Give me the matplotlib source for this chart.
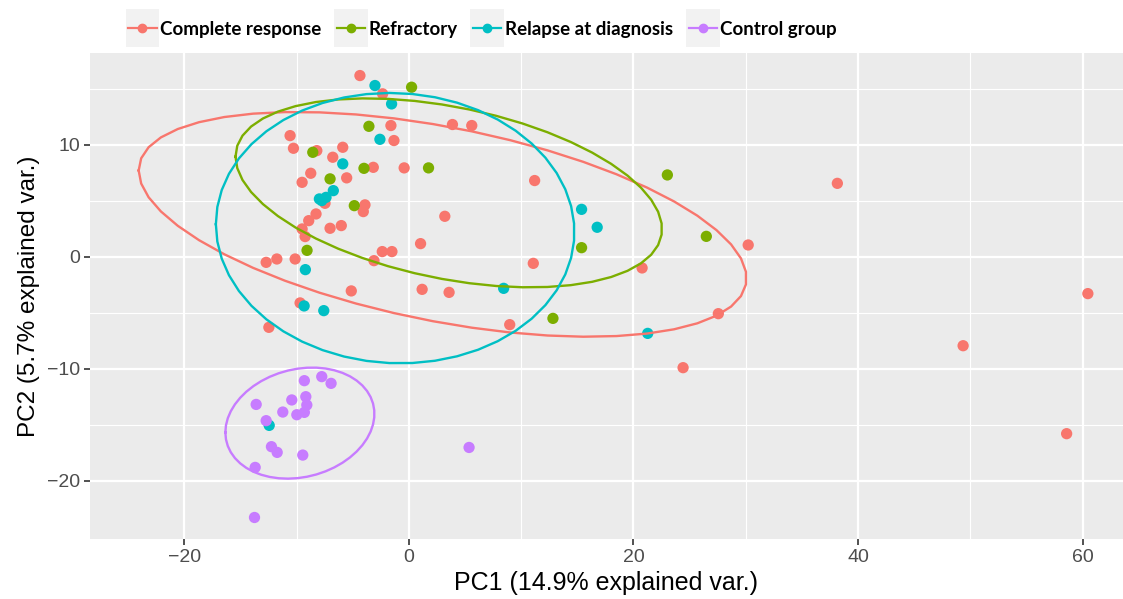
import numpy as np
import matplotlib
matplotlib.use("Agg")
import matplotlib.pyplot as plt
from matplotlib.lines import Line2D
from matplotlib.patches import Rectangle
from matplotlib.legend_handler import HandlerLine2D

groups = ["Complete response", "Refractory", "Relapse at diagnosis", "Control group"]
colors = ["#F8766D", "#7CAE00", "#00BFC4", "#C77CFF"]

cr_x = [-4.36, -2.34, -1.60, 3.88, 5.60, -10.58, -1.33, -10.28, -8.20, -5.89,
        -6.78, -3.17, -0.42, -8.74, -9.51, -5.54, -7.47, -3.91, -4.06, 3.20,
        -8.27, -8.92, -9.51, -9.24, -7.02, -6.02, 1.04, -2.37, -1.51, -3.11,
        -12.71, -11.76, -10.13, -5.13, 1.18, 3.58, -9.69, -12.47, 11.20, 11.08,
        8.98, 20.77, 27.56, 38.16, 30.22, 24.42, 60.47, 49.36, 58.58]
cr_y = [16.16, 14.53, 11.70, 11.79, 11.70, 10.80, 10.36, 9.67, 9.46, 9.76,
        8.87, 7.97, 7.92, 7.44, 6.63, 7.03, 4.76, 4.62, 4.02, 3.60,
        3.81, 3.21, 2.47, 1.79, 2.53, 2.77, 1.16, 0.45, 0.45, -0.36,
        -0.51, -0.21, -0.21, -3.06, -2.92, -3.19, -4.13, -6.31, 6.79, -0.60,
        -6.07, -1.01, -5.09, 6.54, 1.04, -9.91, -3.30, -7.95, -15.80]

rf_x = [0.24, -3.56, -8.56, -4.00, 1.75, -7.02, -4.86, -9.07, 15.38, 12.83, 23.02, 26.49]
rf_y = [15.12, 11.63, 9.31, 7.88, 7.92, 6.94, 4.55, 0.56, 0.80, -5.51, 7.29, 1.81]

rd_x = [-3.02, -1.54, -2.58, -5.89, -6.73, -7.97, -7.38, -7.76, -9.22, -9.33,
        -7.58, 15.38, 16.77, 8.44, 21.27, -12.44]
rd_y = [15.27, 13.63, 10.47, 8.28, 5.89, 5.15, 5.29, 5.00, -1.16, -4.40,
        -4.82, 4.22, 2.62, -2.83, -6.85, -15.06]

cg_x = [-9.31, -7.76, -6.93, -13.60, -10.43, -9.18, -9.09, -11.23, -9.98, -9.31,
        -12.71, -12.24, -11.73, -9.45, -13.69, -13.75, 5.36]
cg_y = [-11.07, -10.71, -11.31, -13.19, -12.79, -12.50, -13.24, -13.87, -14.11, -13.90,
        -14.64, -16.96, -17.47, -17.71, -18.81, -23.28, -17.03]

series_x = [cr_x, rf_x, rd_x, cg_x]
series_y = [cr_y, rf_y, rd_y, cg_y]

x_ticks = [-20, 0, 20, 40, 60]
y_ticks = [-20, -10, 0, 10]
x_label = "PC1 (14.9% explained var.)"
y_label = "PC2 (5.7% explained var.)"
ellipse_prob = 0.68

plt.rcParams['font.family'] = ['Liberation Sans', 'DejaVu Sans']

fig = plt.figure(figsize=(11.23, 5.99), dpi=100)
ax = fig.add_axes([90 / 1123, 60 / 599, 1 - 90 / 1123, (539 - 52.7) / 599])
ax.set_facecolor("#EBEBEB")

ax.set_xlim(-28.4, 63.6)
ax.set_ylim(-25.2, 18.2)
ax.set_xticks(x_ticks)
ax.set_yticks(y_ticks)
ax.set_xticks([-10, 10, 30, 50], minor=True)
ax.set_yticks([-15, -5, 5, 15], minor=True)
ax.grid(which="major", color="white", linewidth=1.6)
ax.grid(which="minor", color="white", linewidth=0.8)
ax.set_axisbelow(True)
for s in ax.spines.values():
    s.set_visible(False)
ax.tick_params(which="major", length=4, width=1.2, color="#333333",
               labelsize=14, labelcolor="#4D4D4D", pad=3)
ax.tick_params(which="minor", length=0)
ax.set_xticklabels([("\u2212" + str(-t)) if t < 0 else str(t) for t in x_ticks])
ax.set_yticklabels([("\u2212" + str(-t)) if t < 0 else str(t) for t in y_ticks])
ax.set_xlabel(x_label, fontsize=18, color="black", labelpad=4)
ax.set_ylabel(y_label, fontsize=17.5, color="black", labelpad=5)

for xs, ys, c in zip(series_x, series_y, colors):
    ax.scatter(xs, ys, s=66, color=c, edgecolors="none", zorder=2)

theta = np.linspace(-np.pi, np.pi, 50)
circle = np.column_stack([np.cos(theta), np.sin(theta)])
ed = np.sqrt(-2 * np.log(1 - ellipse_prob))
for xs, ys, c in zip(series_x, series_y, colors):
    data = np.column_stack([xs, ys])
    sigma = np.cov(data, rowvar=False)
    mu = data.mean(axis=0)
    L = np.linalg.cholesky(sigma)
    ell = circle @ L.T * ed + mu
    ax.plot(ell[:, 0], ell[:, 1], color=c, linewidth=1.7, zorder=3)


class KeyHandler(HandlerLine2D):
    def create_artists(self, legend, orig_handle, xdescent, ydescent, width, height, fontsize, trans):
        bg = Rectangle((-xdescent - 2, -ydescent - 9), width + 4, height + 18,
                       facecolor="#F2F2F2", edgecolor="none", transform=trans)
        arts = super().create_artists(legend, orig_handle, xdescent, ydescent, width, height, fontsize, trans)
        return [bg] + list(arts)


handles = [Line2D([], [], color=c, marker="o", markersize=6, linewidth=1.6) for c in colors]
leg = fig.legend(handles, groups, loc="center left", bbox_to_anchor=(119 / 1123, 1 - 29 / 599),
                 ncol=4, frameon=False, borderpad=0, handlelength=1.5, handletextpad=0.2,
                 columnspacing=0.82,
                 prop={"family": ["Lato", "DejaVu Sans"], "weight": "bold", "size": 13.5},
                 handler_map={Line2D: KeyHandler(numpoints=1)})

fig.savefig("out.png", dpi=100)
